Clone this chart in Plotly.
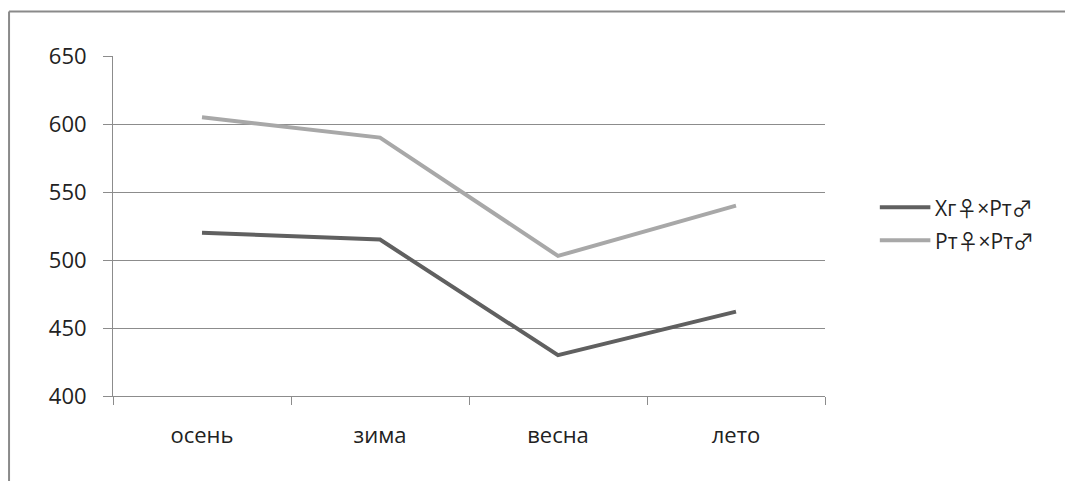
import plotly.graph_objects as go

seasons = ["осень", "зима", "весна", "лето"]
hybrid = [520, 515, 430, 462]
purebred = [605, 590, 503, 540]
y_ticks = [400, 450, 500, 550, 600, 650]

series = [
    ("Хг♀×Рт♂", hybrid, "#606060"),
    ("Рт♀×Рт♂", purebred, "#a8a8a8"),
]

GRID = "#8c8c8c"
FONT = "Open Sans, DejaVu Sans, sans-serif"
SYMBOL_FONT = "Noto Sans CJK JP"


def legend_label(text):
    # the gender signs get a thinner outline glyph
    out = ""
    for ch in text:
        if ch in "♀♂":
            out += f'<span style="font-family:{SYMBOL_FONT}">{ch}</span>'
        else:
            out += ch
    return out


fig = go.Figure()
for name, values, color in series:
    fig.add_trace(go.Scatter(
        x=seasons, y=values, mode="lines", name=name,
        line=dict(color=color, width=4), showlegend=False,
    ))

# legend drawn by hand so the key lines are long like the original style
shapes = [
    dict(type="line", xref="paper", yref="paper",
         x0=-0.146, x1=1.34, y0=1.131, y1=1.131,
         line=dict(color="#8a8a8a", width=2)),
    dict(type="line", xref="paper", yref="paper",
         x0=-0.146, x1=-0.146, y0=1.131, y1=-0.3,
         line=dict(color="#8a8a8a", width=2)),
]
annotations = []
legend_rows = [0.555, 0.458]
for (name, _, color), ly in zip(series, legend_rows):
    shapes.append(dict(type="line", xref="paper", yref="paper",
                       x0=1.077, x1=1.148, y0=ly, y1=ly,
                       line=dict(color=color, width=4)))
    annotations.append(dict(xref="paper", yref="paper", x=1.151, y=ly,
                            xanchor="left", yanchor="middle", showarrow=False,
                            text=legend_label(name),
                            font=dict(family=FONT, size=21, color="#222222")))

fig.update_layout(
    width=1065, height=481,
    margin=dict(l=113, r=240, t=56, b=85),
    paper_bgcolor="white", plot_bgcolor="white",
    font=dict(family=FONT, size=22, color="#222222"),
    xaxis=dict(
        type="category", categoryorder="array", categoryarray=seasons,
        tickson="boundaries", ticks="outside", ticklen=8, tickcolor=GRID,
        showline=True, linecolor=GRID, linewidth=1,
        showgrid=False, zeroline=False,
        ticklabelstandoff=20,
        range=[-0.5, 3.5],
    ),
    yaxis=dict(
        range=[400, 650], tickvals=y_ticks,
        ticks="outside", ticklen=9, tickcolor=GRID,
        showline=True, linecolor=GRID, linewidth=1,
        showgrid=True, gridcolor=GRID, gridwidth=1,
        zeroline=False, ticklabelstandoff=12,
    ),
    shapes=shapes,
    annotations=annotations,
)

fig.write_html("out.html")
